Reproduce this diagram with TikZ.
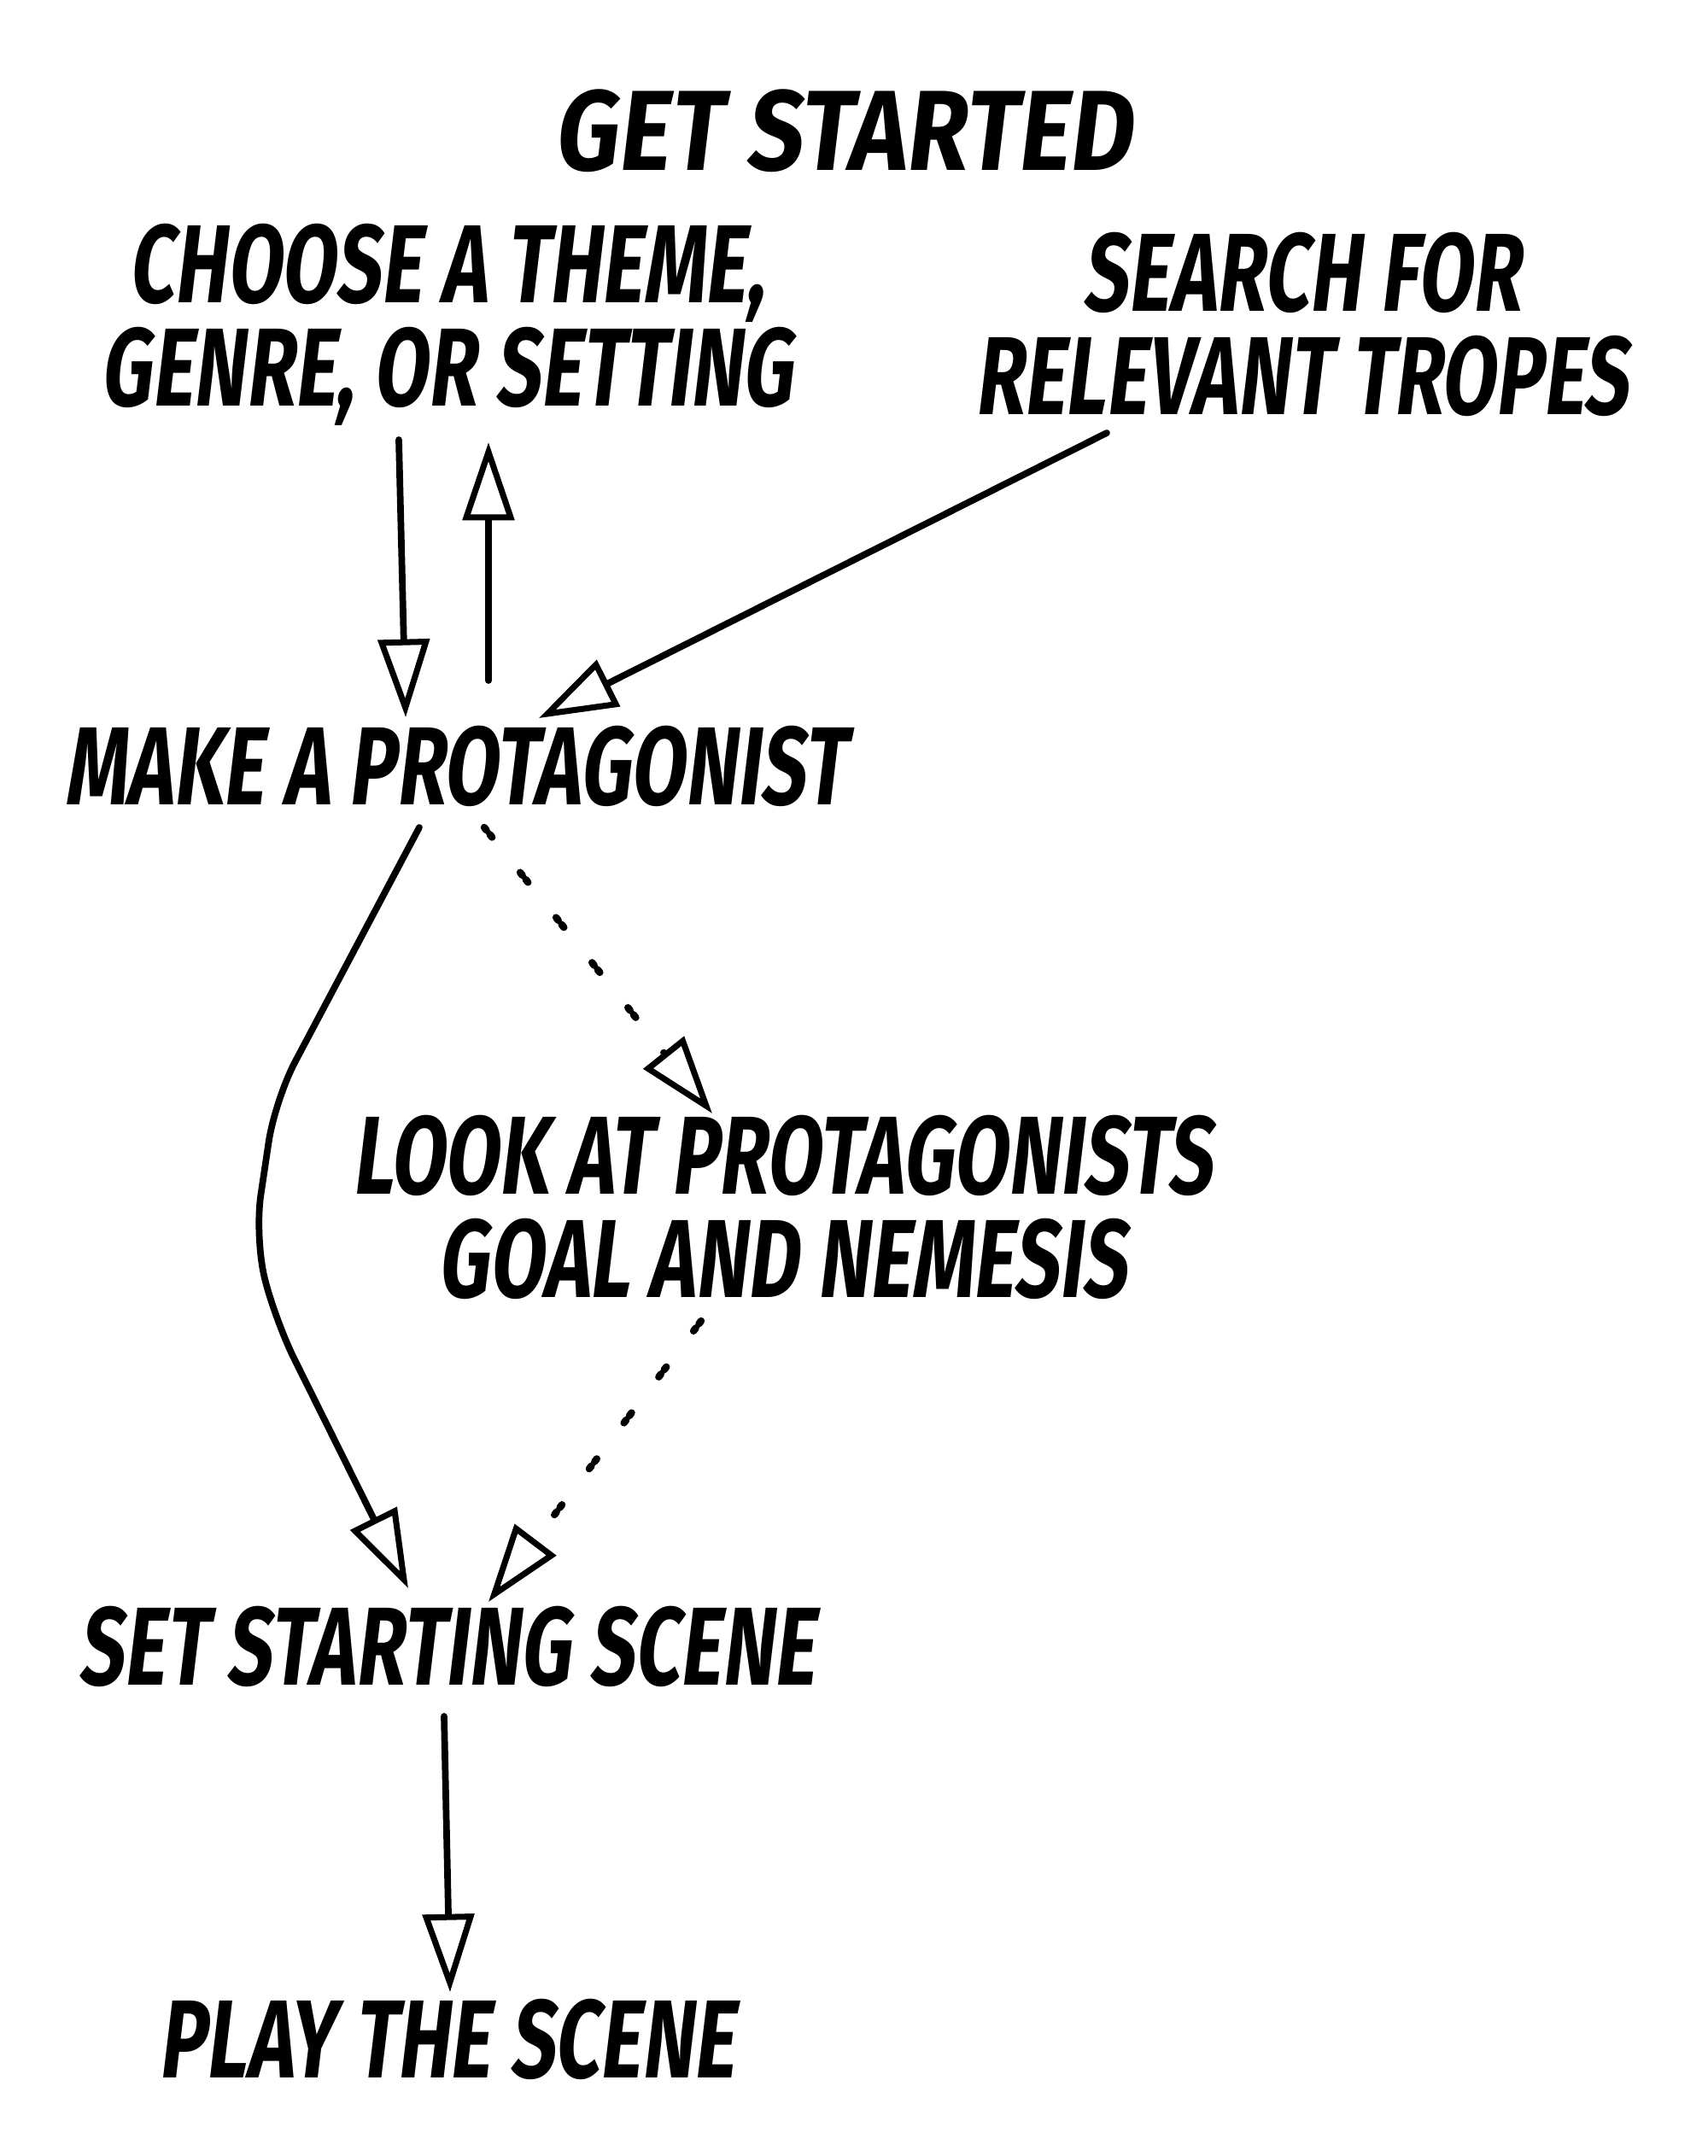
\documentclass[tikz,border=0pt]{standalone}
\usepackage{fontspec}
\newfontfamily\brush[FakeStretch=0.71,FakeSlant=0.12]{Fira Sans}
\newfontfamily\brushwide[FakeStretch=0.86,FakeSlant=0.12]{Fira Sans}
\usetikzlibrary{arrows.meta}
\begin{document}
\begin{tikzpicture}[
  lbl/.style={inner sep=0pt, align=center, font=\brush\bfseries\fontsize{37pt}{34.5pt}\selectfont},
  ttl/.style={inner sep=0pt, align=center, font=\brushwide\bfseries\fontsize{38pt}{34.5pt}\selectfont},
  arr/.style={line width=2.2pt, line cap=round, -{Triangle[open, length=26pt, width=17pt, line width=2pt]}},
  dotarr/.style={arr, dash pattern=on 1.2pt off 1.8pt on 1.2pt off 15pt, line width=2.4pt}
]
\useasboundingbox[fill=white] (0,0) rectangle (20,-25.25);
\node[ttl] (title)  at (9.87,-1.53)  {GET STARTED};
\node[lbl] (choose) at (5.23,-3.80)  {CHOOSE A THEME,\\GENRE, OR SETTING};
\node[lbl] (search) at (15.24,-3.80) {SEARCH FOR\\RELEVANT TROPES};
\node[lbl] (make)   at (5.33,-8.97)  {MAKE A PROTAGONIST};
\node[lbl] (look)   at (9.16,-14.14) {LOOK AT PROTAGONISTS\\GOAL AND NEMESIS};
\node[lbl] (set)    at (5.23,-19.28) {SET STARTING SCENE};
\node[lbl] (play)   at (5.23,-23.88) {PLAY THE SCENE};
\coordinate (bendA) at (3.22,-12.88);
\coordinate (bendB) at (2.98,-14.49);
\coordinate (bendC) at (3.22,-15.46);
% choose -> make
\draw[arr] ([shift={(-0.56,-1.35)}]choose.center) -- ([shift={(-0.58,0.57)}]make.center);
% make -> choose
\draw[arr] ([shift={(0.39,1.00)}]make.center) -- ([shift={(0.49,-1.38)}]choose.center);
% search -> make
\draw[arr] ([shift={(-2.28,-1.27)}]search.center) -- ([shift={(0.98,0.56)}]make.center);
% make -> look (dotted)
\draw[dotarr] ([shift={(0.34,-0.72)}]make.center) -- ([shift={(-0.82,1.10)}]look.center);
% make -> set (curved)
\draw[arr, rounded corners=0.5cm] ([shift={(-0.42,-0.72)}]make.center) -- (bendA) -- (bendB) -- (bendC) -- ([shift={(-0.45,0.68)}]set.center);
% look -> set (dotted)
\draw[dotarr] ([shift={(-0.95,-1.33)}]look.center) -- ([shift={(0.49,0.52)}]set.center);
% set -> play
\draw[arr] ([shift={(-0.03,-0.82)}]set.center) -- ([shift={(0.04,0.55)}]play.center);
\end{tikzpicture}
\end{document}
